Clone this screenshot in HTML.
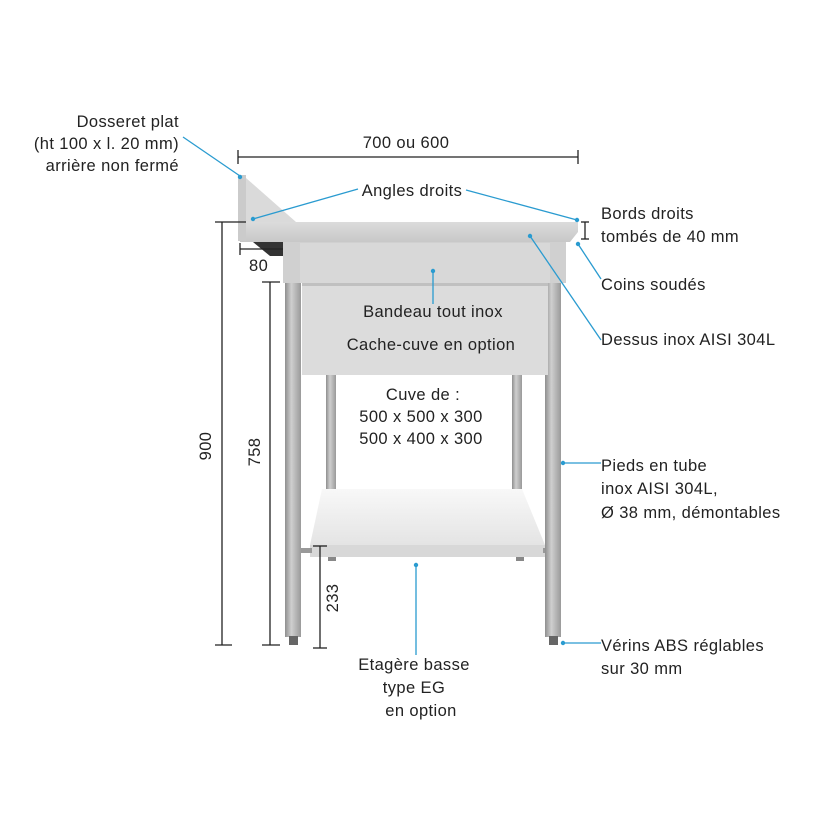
<!DOCTYPE html>
<html><head><meta charset="utf-8"><style>
html,body{margin:0;padding:0;background:#fff;width:840px;height:840px;overflow:hidden}
svg{display:block}
text{font-family:"Liberation Sans","DejaVu Sans",sans-serif;fill:#222;font-size:16.5px;letter-spacing:0.4px}
</style></head><body>
<svg width="840" height="840" viewBox="0 0 840 840" xmlns="http://www.w3.org/2000/svg">
<defs>
<linearGradient id="leg" x1="0" x2="1" y1="0" y2="0">
<stop offset="0" stop-color="#8f8f8f"/><stop offset="0.4" stop-color="#cfcfcf"/><stop offset="1" stop-color="#9a9a9a"/>
</linearGradient>
<linearGradient id="top" x1="0" x2="0" y1="0" y2="1">
<stop offset="0" stop-color="#dcdcdc"/><stop offset="1" stop-color="#c8c8c8"/>
</linearGradient>
<linearGradient id="shelf" x1="0" x2="0" y1="0" y2="1">
<stop offset="0" stop-color="#f8f8f8"/><stop offset="1" stop-color="#e4e4e4"/>
</linearGradient>
</defs>
<line x1="238" y1="157" x2="578" y2="157" stroke="#222" stroke-width="1.3"/>
<line x1="238" y1="150" x2="238" y2="164" stroke="#222" stroke-width="1.3"/>
<line x1="578" y1="150" x2="578" y2="164" stroke="#222" stroke-width="1.3"/>
<text x="406" y="148" text-anchor="middle">700 ou 600</text>

<rect x="326" y="375" width="10" height="118" fill="url(#leg)"/>
<rect x="512" y="375" width="10" height="118" fill="url(#leg)"/>
<polygon points="322,489 522,489 545,545 310,545" fill="url(#shelf)"/>
<rect x="310" y="545" width="235" height="12" fill="#d8d8d8"/>
<rect x="300" y="548" width="12" height="5" fill="#999"/>
<rect x="543" y="548" width="8" height="5" fill="#999"/>
<rect x="328" y="557" width="8" height="4" fill="#888"/>
<rect x="516" y="557" width="8" height="4" fill="#888"/>

<rect x="285" y="282" width="16" height="355" fill="url(#leg)"/>
<rect x="289" y="636" width="9" height="9" fill="#666"/>
<rect x="545" y="282" width="16" height="355" fill="url(#leg)"/>
<rect x="549" y="636" width="9" height="9" fill="#666"/>

<rect x="283" y="240" width="283" height="43" fill="#d0d0d0"/>
<rect x="300" y="243" width="250" height="40" fill="#d8d8d8"/>
<rect x="302" y="283" width="246" height="92" fill="#dcdcdc"/>
<rect x="302" y="283" width="246" height="3" fill="#c0c0c0"/>
<polygon points="253,242 283,242 283,256 270,256" fill="#333"/>

<polygon points="238,222 578,222 578,232 570,242 240,242" fill="url(#top)"/>
<polygon points="238,175 246,178 296,222 238,222" fill="#dadada"/>
<rect x="238" y="175" width="8" height="66" fill="#cbcbcb"/>

<rect x="337" y="375" width="175" height="110" fill="#fff"/>

<g stroke="#222" stroke-width="1.3">
<line x1="215" y1="222" x2="246" y2="222"/>
<line x1="222" y1="222" x2="222" y2="645"/>
<line x1="215" y1="645" x2="232" y2="645"/>
<line x1="240" y1="249" x2="283" y2="249"/>
<line x1="240" y1="243" x2="240" y2="255"/>
<line x1="262" y1="282" x2="280" y2="282"/>
<line x1="270" y1="282" x2="270" y2="645"/>
<line x1="262" y1="645" x2="280" y2="645"/>
<line x1="313" y1="546" x2="327" y2="546"/>
<line x1="320" y1="546" x2="320" y2="648"/>
<line x1="313" y1="648" x2="327" y2="648"/>
<line x1="585" y1="222" x2="585" y2="239"/>
<line x1="581" y1="222" x2="589" y2="222"/>
<line x1="581" y1="239" x2="589" y2="239"/>
</g>
<text x="249" y="271">80</text>
<text transform="translate(211,446) rotate(-90)" text-anchor="middle">900</text>
<text transform="translate(260,452) rotate(-90)" text-anchor="middle">758</text>
<text transform="translate(338,598) rotate(-90)" text-anchor="middle">233</text>

<g stroke="#2a9bd0" stroke-width="1.3" fill="none">
<line x1="183" y1="137" x2="240" y2="176"/>
<line x1="253" y1="219" x2="358" y2="189"/>
<line x1="466" y1="190" x2="577" y2="220"/>
<line x1="578" y1="244" x2="601" y2="279"/>
<line x1="530" y1="236" x2="601" y2="340"/>
<line x1="433" y1="271" x2="433" y2="304"/>
<line x1="562" y1="463" x2="601" y2="463"/>
<line x1="562" y1="643" x2="601" y2="643"/>
<line x1="416" y1="565" x2="416" y2="655"/>
</g>
<g fill="#2a9bd0">
<circle cx="240" cy="177" r="2.2"/><circle cx="253" cy="219" r="2.2"/>
<circle cx="577" cy="220" r="2.2"/><circle cx="578" cy="244" r="2.2"/>
<circle cx="530" cy="236" r="2.2"/><circle cx="433" cy="271" r="2.2"/>
<circle cx="563" cy="463" r="2.2"/><circle cx="563" cy="643" r="2.2"/>
<circle cx="416" cy="565" r="2.2"/>
</g>

<text x="179" y="127" text-anchor="end">Dosseret plat</text>
<text x="179" y="149" text-anchor="end">(ht 100 x l. 20 mm)</text>
<text x="179" y="171" text-anchor="end">arrière non fermé</text>
<text x="412" y="196" text-anchor="middle">Angles droits</text>
<text x="601" y="219">Bords droits</text>
<text x="601" y="242">tombés de 40 mm</text>
<text x="601" y="290">Coins soudés</text>
<text x="601" y="345">Dessus inox AISI 304L</text>
<text x="433" y="317" text-anchor="middle">Bandeau tout inox</text>
<text x="431" y="350" text-anchor="middle">Cache-cuve en option</text>
<text x="423" y="400" text-anchor="middle">Cuve de :</text>
<text x="421" y="422" text-anchor="middle">500 x 500 x 300</text>
<text x="421" y="444" text-anchor="middle">500 x 400 x 300</text>
<text x="601" y="471">Pieds en tube</text>
<text x="601" y="494">inox AISI 304L,</text>
<text x="601" y="518">Ø 38 mm, démontables</text>
<text x="601" y="651">Vérins ABS réglables</text>
<text x="601" y="674">sur 30 mm</text>
<text x="414" y="670" text-anchor="middle">Etagère basse</text>
<text x="414" y="693" text-anchor="middle">type EG</text>
<text x="421" y="716" text-anchor="middle">en option</text>
</svg>
</body></html>
